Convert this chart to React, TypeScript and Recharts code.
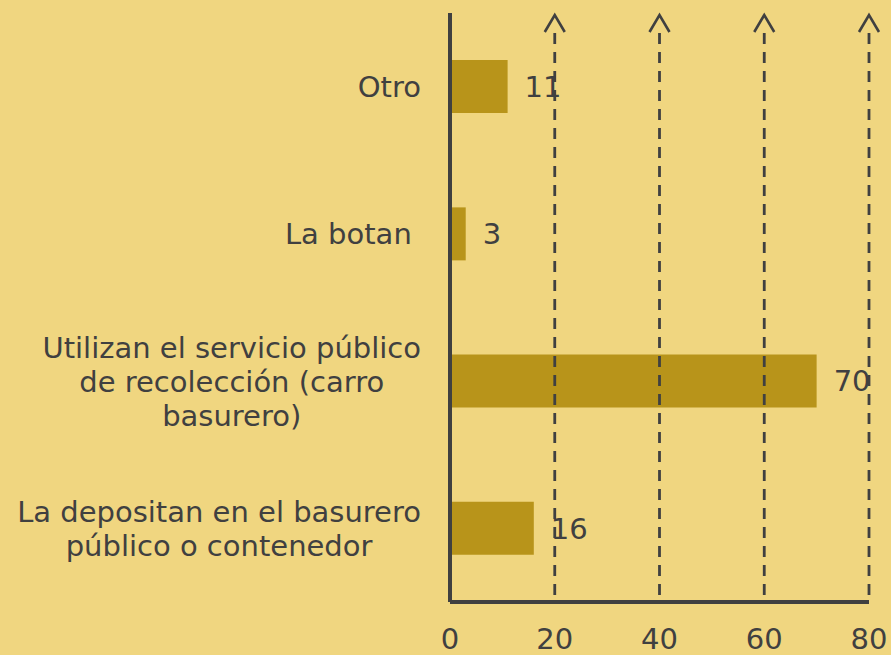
import React from "react";
import { BarChart, Bar, XAxis, YAxis, ReferenceLine, LabelList } from "recharts";

const categories = [
  "Otro",
  "La botan ",
  "Utilizan el servicio público\nde recolección (carro\nbasurero)",
  "La depositan en el basurero\npúblico o contenedor",
];
const values = [11, 3, 70, 16];
const xTicks = [0, 20, 40, 60, 80];
const gridValues = [20, 40, 60, 80];

const data = categories.map((c, i) => ({ name: c, value: values[i] }));

const BG = "#F0D680";
const BAR = "#B8941A";
const INK = "#404040";
const FONT = "'DejaVu Sans', Verdana, sans-serif";
const FS = 29;
const LH = 34;

let ctx: CanvasRenderingContext2D | null = null;
function measure(t: string): number {
  if (!ctx) {
    const c = document.createElement("canvas");
    ctx = c.getContext("2d");
  }
  if (!ctx) return t.length * FS * 0.55;
  ctx.font = `${FS}px 'DejaVu Sans'`;
  return ctx.measureText(t).width;
}

const YTick = (props: any) => {
  const { x, y, payload } = props;
  const lines = String(payload.value).split("\n");
  const maxW = Math.max(...lines.map(measure));
  const cx = x - maxW / 2;
  const y0 = y - ((lines.length - 1) * LH) / 2;
  return (
    <g>
      {lines.map((l, i) => (
        <text
          key={i}
          x={cx}
          y={y0 + i * LH}
          dy="0.36em"
          textAnchor="middle"
          fill={INK}
          fontSize={FS}
          fontFamily={FONT}
          style={{ whiteSpace: "pre" }}
        >
          {l}
        </text>
      ))}
    </g>
  );
};

const ArrowLine = (props: any) => {
  const { x1, y1, y2 } = props;
  const top = Math.min(y1, y2);
  const bottom = Math.max(y1, y2);
  const x = x1;
  return (
    <g>
      <line
        x1={x}
        x2={x}
        y1={top + 20}
        y2={bottom}
        stroke={INK}
        strokeWidth={2.8}
        strokeDasharray="11 8"
      />
      <polyline
        points={`${x - 10},${top + 19} ${x},${top + 2} ${x + 10},${top + 19}`}
        fill="none"
        stroke={INK}
        strokeWidth={2.6}
      />
    </g>
  );
};

export default function App() {
  return (
    <div
      style={{
        position: "absolute",
        left: 0,
        top: 0,
        width: 891,
        height: 655,
        background: BG,
        overflow: "hidden",
      }}
    >
      <BarChart
        width={891}
        height={655}
        data={data}
        layout="vertical"
        margin={{ top: 13, right: 22, bottom: 0, left: 0 }}
        barCategoryGap="32%"
      >
        <XAxis
          type="number"
          domain={[0, 80]}
          ticks={xTicks}
          height={53}
          axisLine={{ stroke: INK, strokeWidth: 4 }}
          tickLine={false}
          tickSize={0}
          tickMargin={26}
          tick={{ fill: INK, fontSize: FS, fontFamily: FONT }}
          interval={0}
        />
        <YAxis
          type="category"
          dataKey="name"
          width={450}
          axisLine={{ stroke: INK, strokeWidth: 4 }}
          tickLine={false}
          tickSize={0}
          tickMargin={29}
          tick={<YTick />}
          interval={0}
        />
        <Bar dataKey="value" fill={BAR} isAnimationActive={false}>
          <LabelList
            dataKey="value"
            position="right"
            offset={17}
            fill={INK}
            fontSize={FS}
            fontFamily={FONT}
          />
        </Bar>
        {gridValues.map((v) => (
          <ReferenceLine key={v} x={v} shape={<ArrowLine />} />
        ))}
      </BarChart>
    </div>
  );
}
